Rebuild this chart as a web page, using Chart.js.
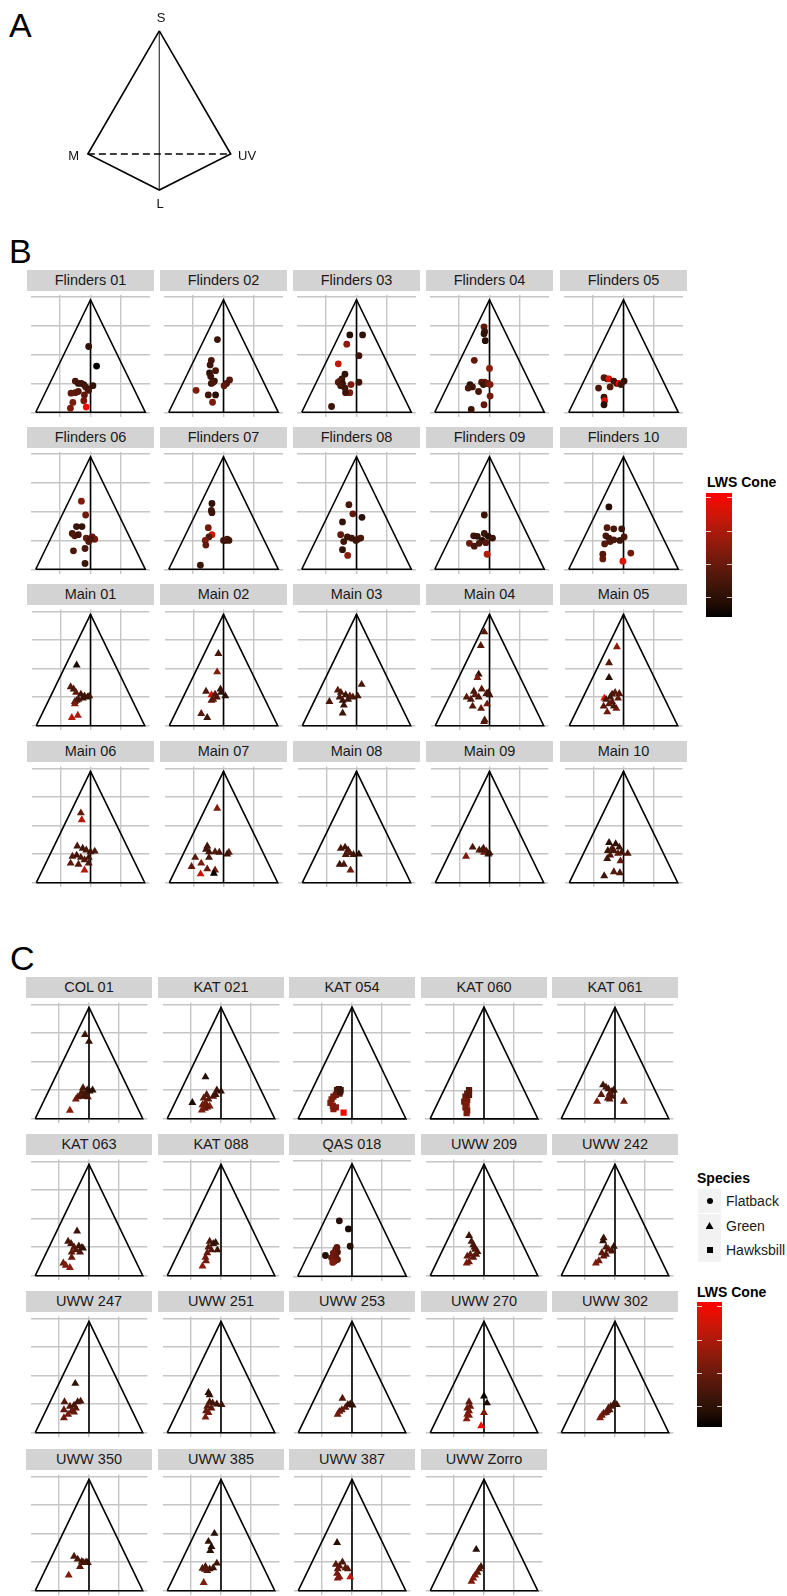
<!DOCTYPE html>
<html>
<head>
<meta charset="utf-8">
<script src="https://cdn.jsdelivr.net/npm/chart.js@4.4.1/dist/chart.umd.min.js"></script>
<style>
  body { margin:0; background:#fff; width:787px; height:1596px; position:relative; overflow:hidden;
         font-family:"Liberation Sans", Arial, Helvetica, sans-serif; }
  .tag { position:absolute; font-size:34px; line-height:34px; color:#000; }
  .strip { position:absolute; height:21px; line-height:21px; background:#d3d3d3; color:#1a1a1a;
           font-size:14.5px; text-align:center; white-space:nowrap; }
  .vlab { position:absolute; font-size:13px; line-height:13px; color:#111; }
  .ltitle { position:absolute; font-size:14px; font-weight:bold; line-height:16px; color:#000; white-space:nowrap; }
  .key { position:absolute; width:23px; height:24px; background:#f2f2f2; }
  .klab { position:absolute; font-size:14px; line-height:16px; color:#1a1a1a; white-space:nowrap; }
  .tick { position:absolute; height:1px; width:5px; background:rgba(255,255,255,0.75); }
</style>
</head>
<body>
<div class="tag" style="left:9px;top:8px">A</div>
<div class="tag" style="left:9px;top:234px">B</div>
<div class="tag" style="left:10px;top:941px">C</div>
<script>
// ---- axis ticks and the tetrahedron outline ----
const xTicks = [-0.5, 0, 0.5];
const yTicks = [0, 0.25, 0.5, 0.75, 1];
const triangleX = [-0.9, 0, 0.9, -0.9];
const triangleY = [0, 0.975, 0, 0];
const midlineX = [0, 0];
const midlineY = [0.975, 0];

// tetrahedron vertices (panel A): S, M, L, UV
const tetraLabels = ['S', 'M', 'L', 'UV'];
const tetraX = [0, -1, 0, 1];
const tetraY = [1, 0, -0.293, 0];

// colour scale limits for the LWS cone value
const lwsLimits = [0.08, 1];

// ---- wild populations: [x, y, LWS cone] per individual ----
const populationNames = ['Flinders 01','Flinders 02','Flinders 03','Flinders 04','Flinders 05',
  'Flinders 06','Flinders 07','Flinders 08','Flinders 09','Flinders 10',
  'Main 01','Main 02','Main 03','Main 04','Main 05','Main 06','Main 07','Main 08','Main 09','Main 10'];
const populationSpecies = ['Flatback','Flatback','Flatback','Flatback','Flatback',
  'Flatback','Flatback','Flatback','Flatback','Flatback',
  'Green','Green','Green','Green','Green','Green','Green','Green','Green','Green'];
const populationPoints = [
  [[-0.03,0.57,0.25],[0.10,0.40,0.08],[-0.25,0.27,0.35],[-0.20,0.25,0.3],[-0.15,0.25,0.3],[-0.11,0.24,0.3],[-0.08,0.22,0.35],[-0.04,0.20,0.3],[-0.03,0.19,0.35],[0.04,0.23,0.25],[-0.32,0.165,0.45],[-0.25,0.17,0.45],[-0.2,0.18,0.4],[-0.10,0.15,0.45],[-0.29,0.085,0.55],[-0.33,0.035,0.55],[-0.11,0.10,0.5],[-0.07,0.045,0.95]],
  [[-0.10,0.63,0.3],[-0.2,0.45,0.35],[-0.22,0.41,0.3],[-0.13,0.36,0.35],[-0.23,0.34,0.25],[-0.21,0.31,0.3],[-0.15,0.27,0.2],[-0.2,0.25,0.3],[-0.17,0.26,0.35],[0.10,0.28,0.4],[0.05,0.25,0.35],[0.01,0.23,0.45],[-0.45,0.19,0.55],[-0.25,0.15,0.3],[-0.13,0.15,0.2],[-0.18,0.087,0.55]],
  [[-0.11,0.67,0.2],[0.10,0.67,0.25],[-0.16,0.59,0.6],[0.04,0.49,0.3],[-0.30,0.42,0.8],[-0.19,0.33,0.25],[-0.24,0.29,0.3],[-0.27,0.27,0.35],[-0.30,0.26,0.4],[-0.23,0.25,0.25],[-0.26,0.23,0.35],[0.04,0.26,0.3],[-0.09,0.24,0.55],[-0.19,0.21,0.3],[-0.11,0.17,0.55],[-0.18,0.17,0.3],[-0.41,0.05,0.3]],
  [[-0.09,0.74,0.45],[-0.08,0.70,0.3],[-0.09,0.68,0.25],[-0.07,0.62,0.2],[-0.25,0.45,0.45],[0.0,0.38,0.6],[-0.13,0.26,0.4],[-0.08,0.26,0.45],[-0.05,0.25,0.35],[-0.10,0.24,0.3],[-0.02,0.25,0.5],[0.01,0.24,0.55],[-0.32,0.24,0.2],[-0.35,0.21,0.35],[-0.28,0.22,0.3],[-0.18,0.18,0.35],[0.01,0.14,0.5],[-0.09,0.065,0.45],[-0.30,0.025,0.3]],
  [[-0.32,0.30,0.4],[-0.27,0.29,0.35],[-0.24,0.29,0.9],[-0.16,0.27,0.3],[-0.11,0.25,0.35],[-0.07,0.25,0.9],[0.01,0.27,0.25],[-0.04,0.24,0.3],[-0.41,0.21,0.35],[-0.22,0.22,0.4],[-0.32,0.13,0.3],[-0.31,0.10,0.9],[-0.32,0.065,0.2]],
  [[-0.15,0.59,0.55],[-0.08,0.47,0.5],[-0.23,0.37,0.3],[-0.14,0.37,0.25],[-0.30,0.31,0.35],[-0.26,0.29,0.4],[-0.20,0.30,0.3],[-0.07,0.27,0.45],[-0.03,0.24,0.4],[0.03,0.28,0.45],[0.07,0.26,0.5],[0.0,0.26,0.35],[-0.09,0.18,0.35],[-0.28,0.16,0.35],[-0.09,0.05,0.3]],
  [[-0.19,0.57,0.25],[-0.20,0.51,0.3],[-0.19,0.49,0.3],[-0.25,0.36,0.5],[-0.19,0.30,0.85],[-0.24,0.28,0.4],[-0.30,0.25,0.55],[-0.29,0.21,0.45],[0.0,0.25,0.35],[0.03,0.25,0.3],[0.06,0.26,0.35],[0.09,0.25,0.3],[-0.38,0.035,0.3]],
  [[-0.125,0.56,0.35],[-0.06,0.48,0.45],[0.09,0.45,0.2],[-0.23,0.41,0.25],[-0.26,0.30,0.45],[-0.15,0.28,0.3],[-0.08,0.27,0.3],[0.02,0.26,0.35],[0.07,0.27,0.35],[-0.01,0.25,0.3],[-0.21,0.24,0.3],[-0.23,0.17,0.25],[-0.145,0.12,0.6]],
  [[-0.085,0.47,0.3],[-0.26,0.29,0.3],[-0.20,0.285,0.25],[-0.085,0.31,0.3],[-0.02,0.285,0.2],[0.05,0.27,0.3],[-0.12,0.25,0.2],[-0.33,0.225,0.5],[-0.25,0.20,0.35],[-0.17,0.225,0.35],[-0.06,0.23,0.4],[-0.04,0.13,0.75]],
  [[-0.24,0.54,0.2],[-0.27,0.36,0.4],[-0.16,0.35,0.35],[-0.03,0.35,0.3],[-0.29,0.29,0.35],[-0.24,0.27,0.3],[-0.16,0.255,0.35],[-0.06,0.25,0.3],[0.01,0.28,0.35],[-0.31,0.22,0.4],[-0.22,0.24,0.35],[-0.34,0.13,0.4],[-0.34,0.09,0.45],[0.12,0.14,0.5],[-0.01,0.07,0.9]],
  [[-0.23,0.53,0.15],[-0.33,0.34,0.4],[-0.28,0.32,0.35],[-0.24,0.29,0.45],[-0.16,0.275,0.3],[-0.10,0.26,0.3],[-0.05,0.25,0.25],[-0.02,0.26,0.3],[-0.13,0.24,0.3],[-0.20,0.23,0.35],[-0.26,0.21,0.4],[-0.23,0.22,0.35],[-0.26,0.19,0.55],[-0.31,0.07,0.75],[-0.21,0.09,0.7]],
  [[-0.085,0.63,0.35],[-0.105,0.47,0.55],[-0.29,0.30,0.35],[-0.20,0.27,0.85],[-0.14,0.275,0.4],[-0.05,0.32,0.3],[-0.04,0.29,0.25],[0.03,0.26,0.2],[-0.11,0.25,0.35],[-0.17,0.23,0.45],[-0.2,0.22,0.4],[-0.37,0.105,0.4],[-0.27,0.07,0.3]],
  [[0.085,0.36,0.35],[-0.31,0.31,0.4],[-0.26,0.29,0.35],[-0.18,0.27,0.3],[-0.11,0.26,0.45],[-0.06,0.25,0.35],[0.02,0.26,0.3],[-0.14,0.23,0.3],[-0.23,0.22,0.3],[-0.28,0.25,0.35],[-0.45,0.21,0.35],[-0.21,0.18,0.3],[-0.23,0.11,0.3]],
  [[-0.085,0.82,0.4],[-0.145,0.70,0.4],[-0.18,0.45,0.2],[-0.20,0.42,0.55],[-0.26,0.30,0.35],[-0.13,0.32,0.4],[-0.02,0.29,0.3],[-0.05,0.28,0.35],[-0.24,0.27,0.4],[-0.38,0.25,0.4],[-0.31,0.23,0.35],[-0.18,0.25,0.35],[0.0,0.27,0.3],[-0.28,0.17,0.4],[-0.14,0.15,0.45],[-0.04,0.19,0.5],[-0.08,0.05,0.35],[-0.09,0.035,0.4]],
  [[-0.11,0.69,0.6],[-0.24,0.55,0.4],[-0.24,0.42,0.2],[-0.32,0.24,0.9],[-0.22,0.25,0.3],[-0.14,0.29,0.45],[-0.07,0.28,0.4],[-0.19,0.275,0.35],[-0.29,0.23,0.35],[-0.19,0.21,0.4],[-0.09,0.24,0.45],[-0.33,0.17,0.4],[-0.24,0.19,0.45],[-0.12,0.15,0.55],[-0.16,0.17,0.35],[-0.27,0.12,0.5]],
  [[-0.16,0.61,0.45],[-0.145,0.55,0.75],[-0.22,0.32,0.35],[-0.13,0.30,0.3],[-0.07,0.285,0.35],[0.0,0.27,0.3],[0.07,0.275,0.35],[-0.30,0.23,0.4],[-0.23,0.24,0.3],[-0.16,0.22,0.35],[-0.10,0.20,0.4],[-0.03,0.22,0.3],[-0.33,0.17,0.45],[-0.20,0.16,0.4],[-0.03,0.17,0.35],[-0.10,0.11,0.75]],
  [[-0.105,0.65,0.55],[-0.27,0.32,0.3],[-0.29,0.29,0.35],[-0.24,0.27,0.3],[-0.14,0.27,0.4],[-0.07,0.265,0.35],[0.09,0.265,0.4],[0.06,0.25,0.3],[-0.47,0.22,0.4],[-0.24,0.22,0.35],[-0.37,0.17,0.55],[-0.53,0.14,0.45],[-0.27,0.12,0.45],[-0.14,0.11,0.5],[-0.38,0.076,0.8],[-0.16,0.081,0.05]],
  [[-0.26,0.30,0.35],[-0.19,0.31,0.3],[-0.14,0.285,0.35],[-0.11,0.26,0.4],[-0.05,0.245,0.3],[0.04,0.25,0.2],[-0.18,0.245,0.35],[-0.28,0.16,0.3],[-0.21,0.16,0.35],[-0.10,0.11,0.5]],
  [[-0.28,0.31,0.35],[-0.17,0.285,0.4],[-0.10,0.30,0.3],[-0.05,0.275,0.35],[0.0,0.26,0.3],[-0.09,0.265,0.5],[-0.12,0.285,0.35],[-0.02,0.25,0.25],[-0.39,0.23,0.55]],
  [[-0.24,0.35,0.2],[-0.13,0.34,0.25],[-0.07,0.31,0.3],[-0.19,0.30,0.35],[-0.26,0.28,0.3],[-0.16,0.28,0.35],[-0.03,0.265,0.3],[0.07,0.255,0.35],[-0.09,0.255,0.4],[-0.22,0.24,0.35],[-0.27,0.21,0.3],[-0.05,0.19,0.45],[-0.16,0.095,0.4],[-0.06,0.086,0.35],[-0.32,0.06,0.3]]
];

// ---- rehabilitation-centre animals ----
const centreNames = ['COL 01','KAT 021','KAT 054','KAT 060','KAT 061','KAT 063','KAT 088','QAS 018','UWW 209','UWW 242',
  'UWW 247','UWW 251','UWW 253','UWW 270','UWW 302','UWW 350','UWW 385','UWW 387','UWW Zorro'];
const centreSpecies = ['Green','Green','Hawksbill','Hawksbill','Green','Green','Green','Flatback','Green','Green',
  'Green','Green','Green','Green','Green','Green','Green','Green','Green'];
const centrePoints = [
  [[-0.067,0.735,0.3],[0.0,0.675,0.25],[-0.10,0.27,0.35],[-0.03,0.25,0.25],[0.01,0.24,0.2],[0.06,0.25,0.2],[-0.05,0.22,0.3],[-0.12,0.235,0.35],[-0.19,0.19,0.45],[-0.22,0.17,0.5],[-0.15,0.20,0.4],[-0.02,0.19,0.35],[-0.09,0.195,0.3],[-0.32,0.073,0.6]],
  [[-0.26,0.365,0.2],[-0.07,0.25,0.3],[0.0,0.24,0.25],[-0.24,0.21,0.4],[-0.29,0.18,0.45],[-0.21,0.17,0.4],[-0.13,0.195,0.35],[-0.09,0.21,0.3],[-0.26,0.14,0.5],[-0.31,0.12,0.5],[-0.19,0.11,0.55],[-0.27,0.09,0.5],[-0.32,0.075,0.55],[-0.23,0.10,0.45],[-0.48,0.14,0.15]],
  [[-0.22,0.26,0.3],[-0.19,0.25,0.25],[-0.25,0.25,0.35],[-0.21,0.22,0.4],[-0.27,0.21,0.5],[-0.31,0.195,0.5],[-0.34,0.17,0.55],[-0.36,0.14,0.55],[-0.32,0.113,0.6],[-0.31,0.086,0.6],[-0.27,0.10,0.55],[-0.20,0.235,0.3],[-0.14,0.054,0.95]],
  [[-0.25,0.25,0.4],[-0.28,0.22,0.45],[-0.31,0.195,0.45],[-0.28,0.165,0.5],[-0.33,0.15,0.5],[-0.29,0.13,0.55],[-0.31,0.10,0.55],[-0.28,0.075,0.5],[-0.29,0.05,0.55],[-0.25,0.21,0.4]],
  [[-0.20,0.295,0.3],[-0.15,0.275,0.35],[-0.11,0.26,0.3],[-0.05,0.24,0.35],[-0.02,0.25,0.25],[-0.09,0.22,0.4],[-0.05,0.195,0.35],[-0.12,0.18,0.45],[-0.09,0.17,0.4],[-0.23,0.21,0.4],[-0.30,0.15,0.55],[0.15,0.15,0.5]],
  [[-0.20,0.39,0.3],[-0.35,0.30,0.35],[-0.30,0.28,0.35],[-0.25,0.25,0.4],[-0.17,0.26,0.3],[-0.12,0.245,0.3],[-0.22,0.225,0.4],[-0.29,0.205,0.45],[-0.15,0.205,0.35],[-0.10,0.24,0.25],[-0.29,0.16,0.45],[-0.43,0.11,0.5],[-0.39,0.09,0.55],[-0.32,0.07,0.6]],
  [[-0.19,0.30,0.35],[-0.13,0.28,0.3],[-0.09,0.29,0.25],[-0.21,0.25,0.4],[-0.16,0.225,0.4],[-0.06,0.225,0.3],[-0.23,0.20,0.45],[-0.26,0.16,0.5],[-0.25,0.13,0.5],[-0.31,0.084,0.6]],
  [[-0.21,0.48,0.2],[-0.06,0.41,0.15],[-0.03,0.26,0.2],[-0.25,0.25,0.4],[-0.27,0.23,0.45],[-0.24,0.21,0.4],[-0.31,0.20,0.5],[-0.27,0.17,0.45],[-0.34,0.16,0.5],[-0.24,0.145,0.45],[-0.29,0.13,0.5],[-0.32,0.12,0.55],[-0.44,0.18,0.2]],
  [[-0.25,0.35,0.3],[-0.21,0.30,0.35],[-0.18,0.27,0.35],[-0.15,0.23,0.4],[-0.11,0.21,0.35],[-0.23,0.185,0.45],[-0.28,0.17,0.45],[-0.18,0.16,0.4],[-0.29,0.11,0.55],[-0.25,0.12,0.5],[-0.13,0.185,0.4],[-0.16,0.25,0.35]],
  [[-0.19,0.33,0.3],[-0.20,0.305,0.25],[-0.15,0.25,0.35],[-0.11,0.23,0.4],[-0.02,0.255,0.25],[-0.05,0.215,0.35],[-0.22,0.20,0.45],[-0.19,0.17,0.45],[-0.27,0.13,0.5],[-0.32,0.11,0.55],[-0.15,0.185,0.4]],
  [[-0.23,0.43,0.25],[-0.41,0.27,0.4],[-0.42,0.20,0.45],[-0.32,0.23,0.4],[-0.25,0.24,0.35],[-0.19,0.27,0.3],[-0.14,0.275,0.35],[-0.22,0.215,0.4],[-0.29,0.19,0.45],[-0.35,0.16,0.5],[-0.42,0.13,0.5],[-0.25,0.18,0.45]],
  [[-0.21,0.35,0.2],[-0.19,0.33,0.25],[-0.19,0.27,0.35],[-0.14,0.26,0.35],[-0.07,0.25,0.3],[0.01,0.245,0.3],[-0.23,0.23,0.4],[-0.16,0.215,0.4],[-0.25,0.19,0.45],[-0.21,0.175,0.5],[-0.26,0.135,0.55]],
  [[-0.16,0.30,0.4],[-0.07,0.245,0.3],[-0.03,0.25,0.25],[0.01,0.24,0.25],[-0.11,0.22,0.4],[-0.17,0.20,0.45],[-0.21,0.185,0.45],[-0.24,0.16,0.5]],
  [[-0.25,0.27,0.45],[-0.23,0.23,0.45],[-0.28,0.215,0.5],[-0.25,0.19,0.5],[-0.28,0.16,0.55],[-0.29,0.12,0.6],[-0.25,0.15,0.55],[0.0,0.32,0.1],[0.05,0.26,0.15],[0.0,0.175,0.55],[-0.047,0.06,0.97]],
  [[-0.02,0.25,0.3],[-0.07,0.23,0.35],[-0.11,0.215,0.4],[-0.13,0.19,0.4],[-0.19,0.17,0.45],[-0.22,0.15,0.5],[-0.25,0.13,0.55],[-0.15,0.175,0.45],[-0.09,0.20,0.4],[0.03,0.245,0.3]],
  [[-0.25,0.30,0.35],[-0.19,0.275,0.35],[-0.12,0.255,0.3],[-0.05,0.25,0.3],[-0.02,0.245,0.25],[-0.09,0.245,0.35],[-0.15,0.21,0.4],[-0.34,0.135,0.55]],
  [[-0.11,0.50,0.2],[-0.21,0.43,0.25],[-0.16,0.385,0.2],[-0.18,0.35,0.2],[-0.31,0.195,0.4],[-0.26,0.21,0.35],[-0.19,0.19,0.35],[-0.13,0.20,0.3],[-0.07,0.24,0.3],[-0.23,0.175,0.4],[-0.27,0.185,0.4],[-0.29,0.07,0.55]],
  [[-0.25,0.42,0.2],[-0.27,0.23,0.4],[-0.21,0.215,0.4],[-0.16,0.25,0.35],[-0.11,0.20,0.4],[-0.07,0.19,0.4],[-0.24,0.19,0.45],[-0.25,0.15,0.5],[-0.21,0.12,0.55],[-0.24,0.11,0.55],[-0.03,0.12,0.8]],
  [[-0.13,0.36,0.2],[-0.05,0.21,0.3],[-0.08,0.19,0.35],[-0.11,0.16,0.45],[-0.15,0.135,0.5],[-0.18,0.11,0.55],[-0.21,0.08,0.55]]
];

const speciesNames = ['Flatback', 'Green', 'Hawksbill'];
const speciesShapes = ['circle', 'triangle', 'rect'];
const speciesRadius = [3.4, 4.6, 4.4];

// black -> red gradient interpolated in CIELAB; v is rescaled to the colour limits
function lwsColour(v, raw) {
  v = (v === undefined) ? 0.3 : v;
  let t = raw ? v : (v - lwsLimits[0]) / (lwsLimits[1] - lwsLimits[0]);
  t = Math.max(0, Math.min(1, t));
  const L = 53.24 * t, A = 80.09 * t, B = 67.2 * t;
  const fy = (L + 16) / 116, fx = fy + A / 500, fz = fy - B / 200;
  const inv = f => (f * f * f > 0.008856 ? f * f * f : (f - 16 / 116) / 7.787);
  const X = 0.95047 * inv(fx), Y = inv(fy), Z = 1.08883 * inv(fz);
  const lin = [3.2406 * X - 1.5372 * Y - 0.4986 * Z,
               -0.9689 * X + 1.8758 * Y + 0.0415 * Z,
               0.0557 * X - 0.2040 * Y + 1.0570 * Z];
  const g = c => { c = Math.max(0, Math.min(1, c));
    return Math.round(255 * (c <= 0.0031308 ? 12.92 * c : 1.055 * Math.pow(c, 1 / 2.4) - 0.055)); };
  return 'rgb(' + lin.map(g).join(',') + ')';
}

function addEl(cls, css, text) {
  const d = document.createElement('div');
  if (cls) d.className = cls;
  d.style.cssText = css;
  if (text !== undefined) d.textContent = text;
  document.body.appendChild(d);
  return d;
}

function addCanvas(left, top, w, h) {
  const cv = document.createElement('canvas');
  cv.width = w; cv.height = h;
  cv.style.cssText = `position:absolute;left:${left}px;top:${top}px;width:${w}px;height:${h}px`;
  document.body.appendChild(cv);
  return cv;
}

const toXY = (xs, ys) => xs.map((x, i) => ({ x: x, y: ys[i] }));

function facet(left, stripTop, w, name, pts, species) {
  addEl('strip', `left:${left}px;top:${stripTop}px;width:${w}px`, name);
  const h = 130;
  const cv = addCanvas(left, stripTop + 21, w, h);
  const si = speciesNames.indexOf(species);
  new Chart(cv, {
    type: 'scatter',
    data: { datasets: [
      { data: pts.map(p => ({ x: p[0], y: p[1] })),
        pointStyle: speciesShapes[si], pointRadius: speciesRadius[si],
        pointBackgroundColor: pts.map(p => lwsColour(p[2])),
        pointBorderWidth: 0, order: 0 },
      { data: toXY(triangleX, triangleY), showLine: true, borderColor: '#000', borderWidth: 1.6,
        pointRadius: 0, fill: false, order: 1 },
      { data: toXY(midlineX, midlineY), showLine: true, borderColor: '#000', borderWidth: 1.6,
        pointRadius: 0, fill: false, order: 1 }
    ] },
    options: {
      responsive: false, animation: false, devicePixelRatio: 1,
      layout: { padding: 0 },
      events: [],
      plugins: { legend: { display: false }, tooltip: { enabled: false } },
      scales: {
        x: { type: 'linear', min: -0.978, max: 0.978,
             afterBuildTicks: ax => { ax.ticks = xTicks.map(v => ({ value: v })); },
             ticks: { display: false }, border: { display: false },
             grid: { color: '#c6c6c6', lineWidth: 1.4, drawTicks: false } },
        y: { type: 'linear', min: -0.041, max: 1.016,
             afterBuildTicks: ax => { ax.ticks = yTicks.map(v => ({ value: v })); },
             ticks: { display: false }, border: { display: false },
             grid: { color: '#c6c6c6', lineWidth: 1.4, drawTicks: false } }
      }
    }
  });
}

// ---- panel A: tetrahedron ----
(function () {
  const cv = addCanvas(60, 20, 200, 180);
  const at = i => ({ x: tetraX[i], y: tetraY[i] });
  new Chart(cv, {
    type: 'scatter',
    data: { datasets: [
      { data: [at(0), at(1), at(2), at(3), at(0)], showLine: true, borderColor: '#000',
        borderWidth: 1.6, pointRadius: 0, fill: false },
      { data: [at(1), at(3)], showLine: true, borderColor: '#000', borderWidth: 1.6,
        borderDash: [7, 4], pointRadius: 0, fill: false },
      { data: [at(0), at(2)], showLine: true, borderColor: '#3a3a3a', borderWidth: 1.2,
        pointRadius: 0, fill: false }
    ] },
    options: {
      responsive: false, animation: false, devicePixelRatio: 1, events: [],
      layout: { padding: 0 },
      plugins: { legend: { display: false }, tooltip: { enabled: false } },
      scales: { x: { display: false, min: -1.39, max: 1.41 },
                y: { display: false, min: -0.374, max: 1.089 } }
    }
  });
  addEl('vlab', 'left:161px;top:17px;transform:translate(-50%,-50%)', tetraLabels[0]);
  addEl('vlab', 'left:79px;top:155px;transform:translate(-100%,-50%)', tetraLabels[1]);
  addEl('vlab', 'left:160px;top:203px;transform:translate(-50%,-50%)', tetraLabels[2]);
  addEl('vlab', 'left:238px;top:155px;transform:translate(0,-50%)', tetraLabels[3]);
})();

// ---- panel B: wild populations ----
const bLeft = [27, 160, 293, 426, 560];
const bStrip = [270, 427, 584, 741];
populationNames.forEach((n, i) => {
  facet(bLeft[i % 5], bStrip[Math.floor(i / 5)], 127, n, populationPoints[i], populationSpecies[i]);
});

// ---- panel C: rehabilitation centres ----
const cLeft = [26, 158, 289, 421, 552];
const cStrip = [977, 1134, 1291, 1449];
centreNames.forEach((n, i) => {
  facet(cLeft[i % 5], cStrip[Math.floor(i / 5)], 126, n, centrePoints[i], centreSpecies[i]);
});

// ---- legends ----
function colourBar(left, top, w, h) {
  const stops = [];
  for (let k = 0; k <= 10; k++) stops.push(lwsColour(k / 10, true) + ' ' + (k * 10) + '%');
  addEl('', `position:absolute;left:${left}px;top:${top}px;width:${w}px;height:${h}px;` +
    `background:linear-gradient(to top, ${stops.join(',')})`);
  [4, 38, 71, 104].forEach(dy => {
    addEl('tick', `left:${left}px;top:${top + dy}px`);
    addEl('tick', `left:${left + w - 5}px;top:${top + dy}px`);
  });
}
addEl('ltitle', 'left:707px;top:474px', 'LWS Cone');
colourBar(706, 493, 26, 124);

addEl('ltitle', 'left:697px;top:1170px', 'Species');
const keyTops = [1189, 1214, 1238];
speciesNames.forEach((s, i) => {
  const t = keyTops[i];
  addEl('key', `left:698px;top:${t}px`);
  let shape;
  if (i === 0) shape = 'left:706.5px;top:' + (t + 9) + 'px;width:6px;height:6px;border-radius:50%;background:#000';
  else if (i === 1) shape = 'left:705.5px;top:' + (t + 8) + 'px;width:8px;height:7px;background:#000;clip-path:polygon(50% 0,100% 100%,0 100%)';
  else shape = 'left:706.5px;top:' + (t + 9) + 'px;width:6px;height:6px;background:#000';
  addEl('', 'position:absolute;' + shape);
  addEl('klab', `left:726px;top:${t + 4}px`, s);
});
addEl('ltitle', 'left:697px;top:1284px', 'LWS Cone');
colourBar(697, 1302, 25, 125);
</script>
</body>
</html>
